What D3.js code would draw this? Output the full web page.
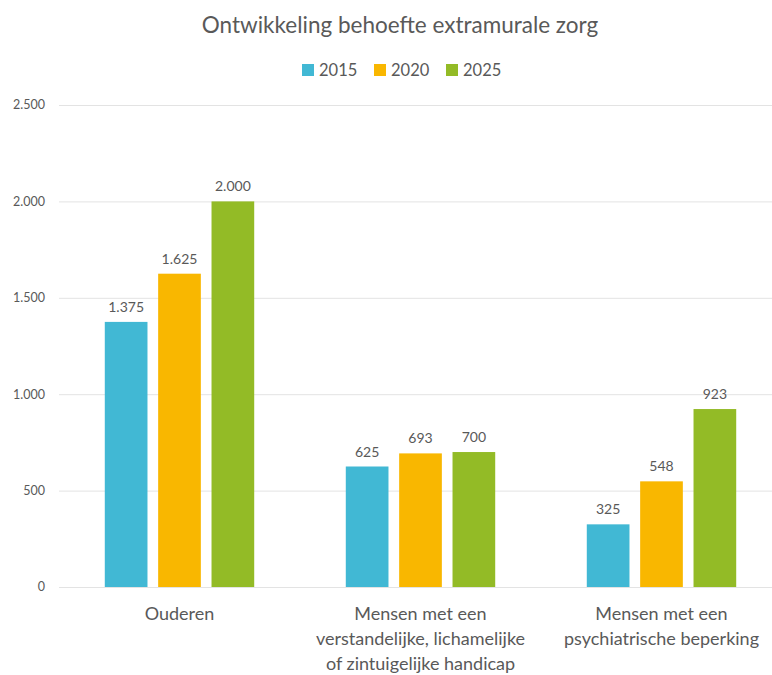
<!DOCTYPE html>
<html>
<head>
<meta charset="utf-8">
<script src="https://cdn.jsdelivr.net/npm/d3@7"></script>
<style>
  body { margin: 0; background: #fff; }
  text { font-family: Lato, "Open Sans", sans-serif; fill: #595959; }
</style>
</head>
<body>
<div id="chart"></div>
<script>
const w = 772, h = 675;

// data
const categories = [
    ["Ouderen"],
    ["Mensen met een", "verstandelijke, lichamelijke", "of zintuigelijke handicap"],
    ["Mensen met een", "psychiatrische beperking"]
];
const years = ["2015", "2020", "2025"];
const values2015 = [1375, 625, 325];
const values2020 = [1625, 693, 548];
const values2025 = [2000, 700, 923];
const yTicks = [0, 500, 1000, 1500, 2000, 2500];
const colors = ["#41b8d4", "#f9b700", "#93bb26"];

const series = [values2015, values2020, values2025];

const svg = d3.select("#chart")
    .append("svg")
    .attr("width", w)
    .attr("height", h);

const fmt = d3.formatLocale({ decimal: ",", thousands: ".", grouping: [3], currency: ["€", ""] }).format(",d");

const x0 = d3.scaleBand()
    .domain(d3.range(categories.length))
    .range([59, 782])
    .paddingInner(0.38)
    .paddingOuter(0.19);

const x1 = d3.scaleBand()
    .domain(years)
    .range([0, x0.bandwidth()])
    .paddingInner(0.2);

const y = d3.scaleLinear()
    .domain([0, 2500])
    .range([587, 105]);

// gridlines
svg.selectAll(".grid")
    .data(yTicks)
    .enter()
    .append("line")
    .attr("x1", 59)
    .attr("x2", w)
    .attr("y1", d => y(d) + 0.5)
    .attr("y2", d => y(d) + 0.5)
    .attr("stroke", "#e3e3e3")
    .attr("stroke-width", 1);

svg.selectAll(".ylab")
    .data(yTicks)
    .enter()
    .append("text")
    .attr("x", 45)
    .attr("y", d => y(d))
    .attr("dy", "0.35em")
    .attr("text-anchor", "end")
    .style("font-size", "12.5px")
    .text(d => fmt(d));

// bars
const groups = svg.selectAll(".grp")
    .data(categories)
    .enter()
    .append("g")
    .attr("transform", (d, i) => "translate(" + x0(i) + ",0)");

groups.each(function (c, i) {
    const g = d3.select(this);
    const rows = years.map((yr, k) => ({ year: yr, value: series[k][i], color: colors[k] }));

    g.selectAll("rect")
        .data(rows)
        .enter()
        .append("rect")
        .attr("x", d => x1(d.year))
        .attr("width", x1.bandwidth())
        .attr("y", d => y(d.value))
        .attr("height", d => y(0) - y(d.value))
        .attr("fill", d => d.color);

    g.selectAll(".val")
        .data(rows)
        .enter()
        .append("text")
        .attr("x", d => x1(d.year) + x1.bandwidth() / 2)
        .attr("y", d => y(d.value) - 10)
        .attr("text-anchor", "middle")
        .style("font-size", "14px")
        .text(d => fmt(d.value));

    g.append("text")
        .attr("x", x0.bandwidth() / 2)
        .attr("y", 620)
        .attr("text-anchor", "middle")
        .style("font-size", "18px")
        .selectAll("tspan")
        .data(c)
        .enter()
        .append("tspan")
        .attr("x", x0.bandwidth() / 2)
        .attr("dy", (d, k) => k === 0 ? 0 : 25)
        .text(d => d);
});

// title
svg.append("text")
    .attr("x", 400)
    .attr("y", 33)
    .attr("text-anchor", "middle")
    .style("font-size", "22.5px")
    .text("Ontwikkeling behoefte extramurale zorg");

// legend
const legendX = [302, 374, 446];
const legend = svg.selectAll(".leg")
    .data(years)
    .enter()
    .append("g")
    .attr("transform", (d, i) => "translate(" + legendX[i] + ",64)");

legend.append("rect")
    .attr("width", 12)
    .attr("height", 12)
    .attr("fill", (d, i) => colors[i]);

legend.append("text")
    .attr("x", 17)
    .attr("y", 6)
    .attr("dy", "0.38em")
    .style("font-size", "16.5px")
    .text(d => d);
</script>
</body>
</html>
